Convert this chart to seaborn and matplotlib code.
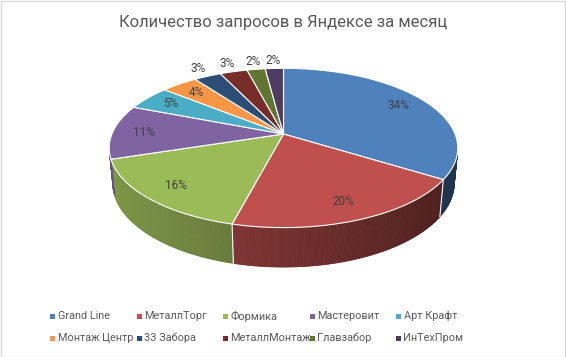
import numpy as np
import matplotlib
matplotlib.use("Agg")
import matplotlib.pyplot as plt
import seaborn as sns
from matplotlib.patches import Polygon, Rectangle
from matplotlib.colors import to_rgb

# ---- data ----
categories = ["Grand Line", "МеталлТорг", "Формика", "Мастеровит", "Арт Крафт",
              "Монтаж Центр", "33 Забора", "МеталлМонтаж", "Главзабор", "ИнТехПром"]
shares = [34, 20, 16, 11, 5, 4, 3, 3, 2, 2]
pct_labels = [f"{v}%" for v in shares]
colors = ["#4F81BD", "#C0504D", "#9BBB59", "#8064A2", "#4BACC6",
          "#F79646", "#2C4D75", "#772C2A", "#5F7530", "#4D3B62"]
title = "Количество запросов в Яндексе за месяц"

sns.set_theme(style="white")
plt.rcParams['font.family'] = ['Roboto', 'DejaVu Sans']

W, H = 566, 357
fig = plt.figure(figsize=(W / 100, H / 100), dpi=100)
ax = fig.add_axes([0, 0, 1, 1])
ax.set_xlim(0, W)
ax.set_ylim(H, 0)
ax.axis('off')

# ---- perspective projection of a unit cylinder ----
se = 0.45
ce = np.sqrt(1 - se ** 2)
D, F = 5.1, 875.0
cx, cy = 283.5, 134.0
depth = 0.23


def proj(X, Y, Z=0.0):
    zc = D + Y * ce - Z * se
    u = F * X / zc
    w = F * (se * Y + ce * Z) / zc
    return cx + u, cy - w


vals = np.array(shares, dtype=float)
frac = vals / vals.sum()
edges = np.concatenate([[0], np.cumsum(frac)])
ang = np.deg2rad(90 - 360 * edges)  # clockwise from 12 o'clock


def shade(c, x):
    k = 0.6 - 0.2 * (x - cx) / 172.0
    r, g, b = to_rgb(c)
    return (r * k, g * k, b * k)


# side faces (only the camera-facing part)
tmin = -np.pi + np.arcsin(1 / (D * ce))
tmax = -np.arcsin(1 / (D * ce))
for i, c in enumerate(colors):
    a0, a1 = ang[i], ang[i + 1]
    ts = np.linspace(a0, a1, max(3, int(abs(a1 - a0) / np.deg2rad(0.5))))
    for ta, tb in zip(ts[:-1], ts[1:]):
        tm = (ta + tb) / 2
        tm_n = (tm + np.pi) % (2 * np.pi) - np.pi
        if not (tmin <= tm_n <= tmax):
            continue
        p1 = proj(np.cos(ta), np.sin(ta), 0)
        p2 = proj(np.cos(tb), np.sin(tb), 0)
        p3 = proj(np.cos(tb), np.sin(tb), -depth)
        p4 = proj(np.cos(ta), np.sin(ta), -depth)
        col = shade(c, (p1[0] + p2[0]) / 2)
        ax.add_patch(Polygon([p1, p2, p3, p4], closed=True, facecolor=col,
                             edgecolor=col, lw=0.6, zorder=1))

# white separators on the side
for a in ang[1:-1]:
    a_n = (a + np.pi) % (2 * np.pi) - np.pi
    if tmin + 0.1 <= a_n <= tmax:
        p1 = proj(np.cos(a), np.sin(a), 0)
        p2 = proj(np.cos(a), np.sin(a), -depth)
        ax.plot([p1[0], p2[0]], [p1[1], p2[1]], color="white", lw=0.8, zorder=2)

# top faces
for i, c in enumerate(colors):
    ts = np.linspace(ang[i], ang[i + 1], 200)
    pts = [proj(0, 0, 0)] + [proj(np.cos(t), np.sin(t), 0) for t in ts]
    ax.add_patch(Polygon(pts, closed=True, facecolor=c, edgecolor="white",
                         lw=0.8, joinstyle="round", zorder=3))

# percentage labels
for i, lab in enumerate(pct_labels):
    tm = (ang[i] + ang[i + 1]) / 2
    r = 1.15 if shares[i] <= 3 else 0.82
    x, y = proj(r * np.cos(tm), r * np.sin(tm), 0)
    ax.text(x, y, lab, ha="center", va="center", fontsize=8.5,
            color="#404040", zorder=5)

# title
fig.text(0.5, 1 - 22 / H, title, ha="center", va="center", fontsize=12,
         color="#595959")

# legend (two rows of five, uniform column spacing)
for i, (name, c) in enumerate(zip(categories, colors)):
    row, col = divmod(i, 5)
    mx = 50 + col * 86.5
    my = 316 + row * 22
    ax.add_patch(Rectangle((mx, my - 2.5), 5, 5, facecolor=c, edgecolor="none",
                           zorder=5))
    ax.text(mx + 7.5, my, name, ha="left", va="center", fontsize=7.8,
            color="#595959", zorder=5)

# chart border
fig.patches.append(Rectangle((0.5 / W, 0.5 / H), 1 - 1.5 / W, 1 - 1.5 / H,
                             transform=fig.transFigure, fill=False,
                             edgecolor="#D9D9D9", lw=1))

fig.savefig("out.png", dpi=100)
